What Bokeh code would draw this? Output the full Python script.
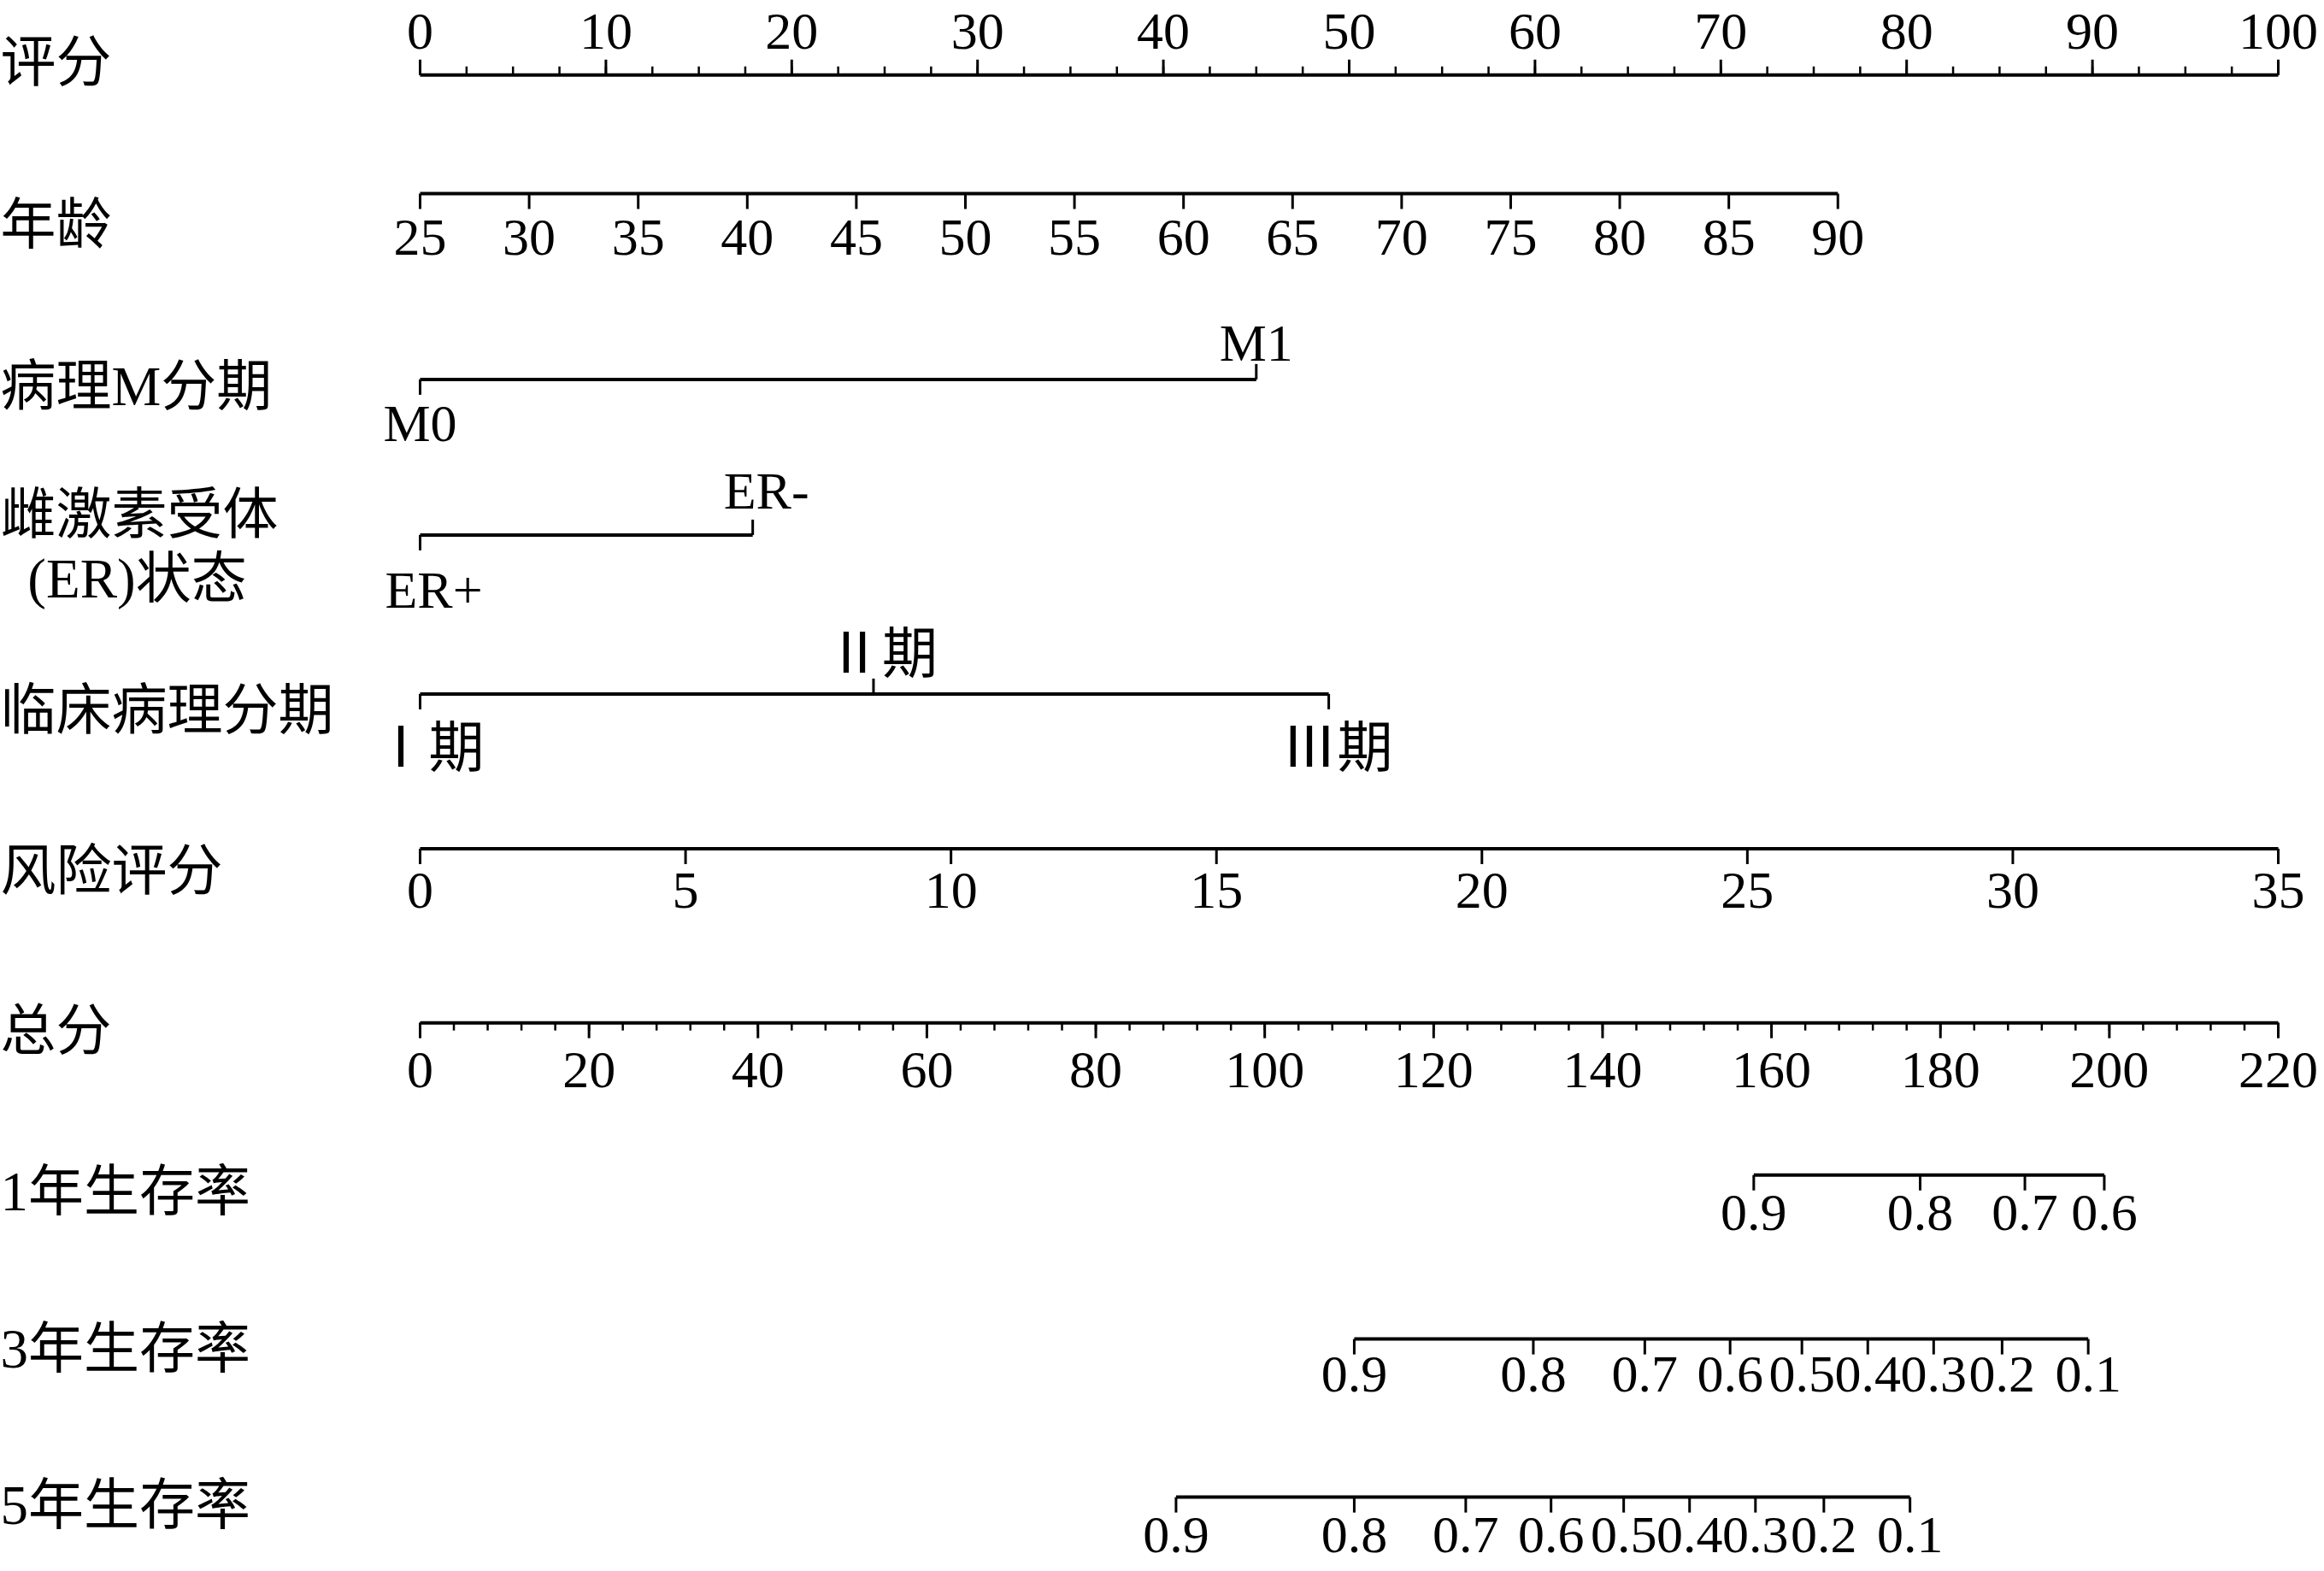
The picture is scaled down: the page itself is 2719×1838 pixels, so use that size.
from bokeh.plotting import figure
from bokeh.models import Range1d
from bokeh.core.properties import value
from bokeh.embed import file_html
from bokeh.resources import INLINE

# ---------------- data ----------------
row_labels = ["评分", "年龄", "病理M分期", "雌激素受体", "(ER)状态", "临床病理分期",
              "风险评分", "总分", "1年生存率", "3年生存率", "5年生存率"]

points_ticks = [0, 10, 20, 30, 40, 50, 60, 70, 80, 90, 100]
points_minor_step = 2.5

age_ticks = [25, 30, 35, 40, 45, 50, 55, 60, 65, 70, 75, 80, 85, 90]
age_points_at_max = 76.3          # points given to age 90

m_labels = ["M0", "M1"]
m_points = [0.0, 45.0]

er_labels = ["ER+", "ER-"]
er_points = [0.0, 17.9]

stage_labels = ["Ⅰ期", "Ⅱ期", "Ⅲ期"]
stage_points = [0.0, 24.4, 48.9]

risk_ticks = [0, 5, 10, 15, 20, 25, 30, 35]
risk_points_at_max = 100.0

total_ticks = [0, 20, 40, 60, 80, 100, 120, 140, 160, 180, 200, 220]
total_minor_step = 4
total_max = 220

surv1_labels = ["0.9", "0.8", "0.7", "0.6"]
surv1_total = [157.9, 177.6, 190.0, 199.4]

surv3_labels = ["0.9", "0.8", "0.7", "0.6", "0.5", "0.4", "0.3", "0.2", "0.1"]
surv3_total = [110.6, 131.8, 145.0, 155.1, 163.6, 171.4, 179.2, 187.3, 197.5]

surv5_labels = ["0.9", "0.8", "0.7", "0.6", "0.5", "0.4", "0.3", "0.2", "0.1"]
surv5_total = [89.5, 110.6, 123.8, 133.9, 142.5, 150.3, 158.1, 166.2, 176.4]

# ---------------- layout / style ----------------
W, H = 2719, 1838
X0 = 491.0      # screen x of 0 points
PX = 21.74      # screen px per point
LX = (0 - X0) / PX


def Y(v):
    # slight vertical squeeze so that top and bottom labels stay inside the canvas
    return 36 + (v - 25) * 0.984


row_y = {"points": 77, "age": 218, "m": 439, "er": 624, "stage": 813,
         "risk": 997, "total": 1204, "s1": 1385, "s3": 1580, "s5": 1768}
label_y = [62, 255, 447, 600, 676, 832, 1023, 1214, 1405, 1592, 1778]

NUM_FONT = value("Liberation Serif")
MIX_FONT = value("Liberation Serif, Noto Sans CJK SC")
NUM_SIZE = "62px"
LAB_SIZE = "65px"
LINE_W = 4
TICK_W = 3
MAJ = 18

p = figure(width=W, height=H,
           x_range=Range1d((0 - X0) / PX, (W - X0) / PX),
           y_range=Range1d(H, 0),
           output_backend="svg", toolbar_location=None,
           x_axis_location=None, y_axis_location=None, min_border=0)
p.grid.visible = False
p.outline_line_color = None
p.background_fill_color = "white"
p.border_fill_color = "white"


def draw_scale(yref, pos, labels, dirs, above_dy, below_dy, font=NUM_FONT, size=NUM_SIZE, xoff=0):
    y = Y(yref)
    p.segment(x0=[min(pos)], x1=[max(pos)], y0=[y], y1=[y],
              line_width=LINE_W, line_color="black", line_cap="butt")
    p.segment(x0=pos, x1=pos, y0=[y] * len(pos), y1=[y + d * MAJ for d in dirs],
              line_width=TICK_W, line_color="black")
    ly = [Y(yref + (below_dy if d > 0 else above_dy)) for d in dirs]
    p.text(x=pos, y=ly, text=labels, text_align="center", text_baseline="middle",
           x_offset=xoff, text_font=font, text_font_size=size, text_color="black")


def minor_ticks(yref, start, stop, step, scale, direction, length):
    y = Y(yref)
    xs = []
    v = start
    while v <= stop + 1e-9:
        xs.append(v * scale)
        v += step
    p.segment(x0=xs, x1=xs, y0=[y] * len(xs), y1=[y + direction * length] * len(xs),
              line_width=2.5, line_color="black")


# 评分 (points)
minor_ticks(row_y["points"], 0, 100, points_minor_step, 1.0, -1, 10)
draw_scale(row_y["points"], points_ticks, [str(v) for v in points_ticks],
           [-1] * len(points_ticks), -52, 0)

# 年龄
age_pos = [(a - age_ticks[0]) / (age_ticks[-1] - age_ticks[0]) * age_points_at_max for a in age_ticks]
draw_scale(row_y["age"], age_pos, [str(a) for a in age_ticks], [1] * len(age_ticks), 0, 52)

# 病理M分期
draw_scale(row_y["m"], m_points, m_labels, [1, -1], -44, 52)

# ER
draw_scale(row_y["er"], er_points, er_labels, [1, -1], -53, 65, xoff=16)

# 临床病理分期
draw_scale(row_y["stage"], stage_points, stage_labels, [1, -1, 1], -48, 64,
           font=MIX_FONT, size=LAB_SIZE, xoff=10)

# 风险评分
risk_pos = [r / risk_ticks[-1] * risk_points_at_max for r in risk_ticks]
draw_scale(row_y["risk"], risk_pos, [str(r) for r in risk_ticks], [1] * len(risk_ticks), 0, 50)

# 总分
tscale = 100.0 / total_max
minor_ticks(row_y["total"], 0, total_max, total_minor_step, tscale, 1, 9)
draw_scale(row_y["total"], [t * tscale for t in total_ticks], [str(t) for t in total_ticks],
           [1] * len(total_ticks), 0, 56)

# survival scales
draw_scale(row_y["s1"], [t * tscale for t in surv1_total], surv1_labels, [1] * len(surv1_total), 0, 45)
draw_scale(row_y["s3"], [t * tscale for t in surv3_total], surv3_labels, [1] * len(surv3_total), 0, 42)
draw_scale(row_y["s5"], [t * tscale for t in surv5_total], surv5_labels, [1] * len(surv5_total), 0, 45)

# row labels
left_idx = [i for i in range(len(row_labels)) if i != 4]
p.text(x=[LX] * len(left_idx), y=[Y(label_y[i]) for i in left_idx],
       text=[row_labels[i] for i in left_idx], text_align="left", text_baseline="middle",
       text_font=MIX_FONT, text_font_size=LAB_SIZE, text_color="black")
p.text(x=[LX], y=[Y(label_y[4])], text=[row_labels[4]], x_offset=160,
       text_align="center", text_baseline="middle",
       text_font=MIX_FONT, text_font_size=LAB_SIZE, text_color="black")

open("out.html", "w").write(file_html(p, INLINE))
